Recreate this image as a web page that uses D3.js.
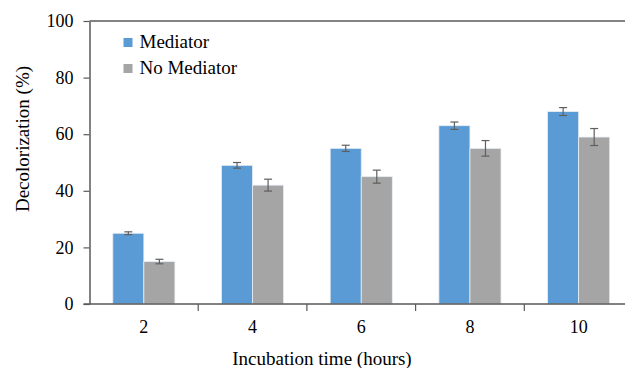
<!DOCTYPE html>
<html>
<head>
<meta charset="utf-8">
<script src="https://cdn.jsdelivr.net/npm/d3@7"></script>
<style>
  body { margin: 0; background: #fff; }
  svg { display: block; }
  svg text { font-family: "Liberation Serif", "Times New Roman", serif; fill: #000; }
</style>
</head>
<body>
<svg id="chart" width="625" height="368"></svg>
<script>
const hours = ["2", "4", "6", "8", "10"];
const series = ["Mediator", "No Mediator"];
const mediator = [25, 49, 55, 63, 68];
const noMediator = [15, 42, 45, 55, 59];
const mediatorErr = [0.5, 1, 1.1, 1.3, 1.4];
const noMediatorErr = [0.8, 2.1, 2.3, 2.75, 3];
const yTicks = [0, 20, 40, 60, 80, 100];
const colors = ["#5b9bd5", "#a5a5a5"];

const svg = d3.select("#chart");
const plotL = 89.5, plotR = 633, plotT = 21, plotB = 304;

const x0 = d3.scaleBand().domain(hours).range([plotL, plotR]);
const x1 = d3.scaleBand().domain(series).range([0, x0.bandwidth()]).paddingOuter(0.75);
const y = d3.scaleLinear().domain([0, 100]).range([plotB, plotT]);

const rows = hours.map((h, i) => ({
  hour: h,
  vals: [
    { s: series[0], v: mediator[i], e: mediatorErr[i] },
    { s: series[1], v: noMediator[i], e: noMediatorErr[i] }
  ]
}));

// top border of the plot
svg.append("line")
  .attr("x1", plotL).attr("x2", 625)
  .attr("y1", y(100)).attr("y2", y(100))
  .attr("stroke", "#595959").attr("stroke-width", 1.5);

// bars
const groups = svg.selectAll(".grp")
  .data(rows)
  .enter().append("g")
  .attr("transform", d => `translate(${x0(d.hour)},0)`);

groups.selectAll("rect")
  .data(d => d.vals)
  .enter().append("rect")
  .attr("x", d => x1(d.s))
  .attr("y", d => y(d.v))
  .attr("width", x1.bandwidth())
  .attr("height", d => y(0) - y(d.v))
  .attr("fill", (d, i) => colors[i])
  .attr("stroke", "#e8eef5")
  .attr("stroke-width", 0.8);

// error bars
const err = groups.selectAll(".err")
  .data(d => d.vals)
  .enter().append("g")
  .attr("stroke", "#5f5f5f").attr("stroke-width", 1.2);

err.append("line")
  .attr("x1", d => x1(d.s) + x1.bandwidth() / 2)
  .attr("x2", d => x1(d.s) + x1.bandwidth() / 2)
  .attr("y1", d => y(d.v + d.e))
  .attr("y2", d => y(d.v - d.e));
err.append("line")
  .attr("x1", d => x1(d.s) + x1.bandwidth() / 2 - 4)
  .attr("x2", d => x1(d.s) + x1.bandwidth() / 2 + 4)
  .attr("y1", d => y(d.v + d.e))
  .attr("y2", d => y(d.v + d.e));
err.append("line")
  .attr("x1", d => x1(d.s) + x1.bandwidth() / 2 - 4)
  .attr("x2", d => x1(d.s) + x1.bandwidth() / 2 + 4)
  .attr("y1", d => y(d.v - d.e))
  .attr("y2", d => y(d.v - d.e));

// y axis
const yAxis = svg.append("g")
  .attr("transform", `translate(${plotL},0)`)
  .call(d3.axisLeft(y).tickValues(yTicks).tickSize(6).tickSizeOuter(0).tickPadding(10))
  .attr("font-family", null);
yAxis.select(".domain").attr("stroke", "#595959").attr("stroke-width", 1.5);
yAxis.selectAll(".tick line").attr("stroke", "#595959").attr("stroke-width", 1.2);
yAxis.selectAll(".tick text").attr("font-size", 18);

// x axis
const bounds = hours.slice(1).map(h => x0(h));
const xAxis = svg.append("g").attr("transform", `translate(0,${plotB})`);
xAxis.append("line")
  .attr("x1", plotL - 6).attr("x2", 625)
  .attr("stroke", "#595959").attr("stroke-width", 1.5);
xAxis.selectAll(".xt")
  .data(bounds)
  .enter().append("line")
  .attr("x1", d => d).attr("x2", d => d)
  .attr("y1", 0).attr("y2", 7)
  .attr("stroke", "#595959").attr("stroke-width", 1.2);
xAxis.selectAll(".xl")
  .data(hours)
  .enter().append("text")
  .attr("x", d => x0(d) + x0.bandwidth() / 2)
  .attr("y", 29)
  .attr("text-anchor", "middle")
  .attr("font-size", 18)
  .text(d => d);

// axis titles
svg.append("text")
  .attr("x", 322)
  .attr("y", 365)
  .attr("text-anchor", "middle")
  .attr("font-size", 19)
  .text("Incubation time (hours)");

svg.append("text")
  .attr("transform", "translate(28.5,139) rotate(-90)")
  .attr("text-anchor", "middle")
  .attr("font-size", 19)
  .text("Decolorization (%)");

// legend
const legend = svg.selectAll(".leg")
  .data(series)
  .enter().append("g")
  .attr("transform", (d, i) => `translate(123.5,${38 + i * 26})`);
legend.append("rect")
  .attr("width", 9).attr("height", 9)
  .attr("fill", (d, i) => colors[i]);
legend.append("text")
  .attr("x", 16).attr("y", 10.2)
  .attr("font-size", 19)
  .text(d => d);
</script>
</body>
</html>
